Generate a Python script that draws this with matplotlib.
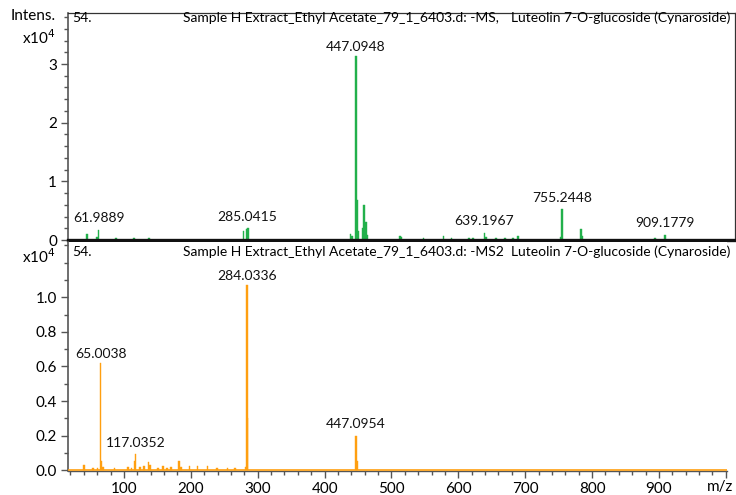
import matplotlib
matplotlib.use("Agg")
import matplotlib.pyplot as plt
from matplotlib.ticker import MultipleLocator, FixedLocator, FuncFormatter

plt.rcParams['font.family'] = ['Lato', 'DejaVu Sans']

# ---- data (intensity in units of 1e4) ----
ms1_mz = [44.7, 59.7, 61.9889, 88, 115, 137, 279, 283.5, 285.0415,
          439, 441, 447.0948, 448, 449.5, 456.6, 459, 462, 463.5,
          513, 515, 548, 578, 590, 616, 622, 639.1967, 641, 656, 670, 682, 689,
          753.5, 755.2448, 783, 785, 894, 909.1779]
ms1_int = [0.10, 0.05, 0.17, 0.03, 0.03, 0.03, 0.15, 0.18, 0.20,
           0.10, 0.06, 3.13, 0.68, 0.15, 0.20, 0.60, 0.30, 0.08,
           0.07, 0.05, 0.04, 0.07, 0.03, 0.04, 0.04, 0.12, 0.05, 0.03, 0.04, 0.03, 0.06,
           0.05, 0.52, 0.18, 0.06, 0.04, 0.09]

ms2_mz = [40.6, 53.7, 60.6, 65.0038, 66.5, 68.7, 86, 106, 111, 116.0, 117.0352,
          124, 130, 136.4, 139, 151, 158, 164, 170, 182, 185, 198, 210, 225,
          239, 255, 266, 282, 284.0336, 285.0, 447.0954, 448.2]
ms2_int = [0.03, 0.01, 0.01, 0.62, 0.05, 0.02, 0.01, 0.02, 0.015, 0.05, 0.093,
           0.02, 0.025, 0.047, 0.03, 0.015, 0.025, 0.015, 0.02, 0.055, 0.02,
           0.025, 0.025, 0.022, 0.012, 0.01, 0.01, 0.02, 1.07, 0.30, 0.20, 0.05]

ms1_labels = [61.9889, 285.0415, 447.0948, 639.1967, 755.2448, 909.1779]
ms1_label_h = [0.17, 0.20, 3.13, 0.12, 0.52, 0.09]
ms2_labels = [65.0038, 117.0352, 284.0336, 447.0954]
ms2_label_h = [0.62, 0.093, 1.07, 0.20]

header = "Sample H Extract_Ethyl Acetate_79_1_6403.d: "
scan1 = "-MS,"
scan2 = "-MS2"
compound = "Luteolin 7-O-glucoside (Cynaroside)"
compound_no = "54."

green = "#22b04b"
orange = "#ff9f10"
gray = "#555555"

W, H = 736, 495
fig = plt.figure(figsize=(W / 100, H / 100), dpi=100)

def fx(px):
    return px / W

def fy(py):
    return 1 - py / H

# axes geometry (pixels)
top_l, top_r, top_t, top_b = 68, 735, 13, 240
bot_l, bot_r, bot_t, bot_b = 68, 727, 242, 471
px_per_unit = 0.66875
x0 = 16.3

ax1 = fig.add_axes([fx(top_l), fy(top_b), (top_r - top_l) / W, (top_b - top_t) / H])
ax2 = fig.add_axes([fx(bot_l), fy(bot_b), (bot_r - bot_l) / W, (bot_b - bot_t) / H])

ax1.set_xlim(x0, x0 + (top_r - top_l) / px_per_unit)
ax2.set_xlim(x0, x0 + (bot_r - bot_l) / px_per_unit)
ax1.set_ylim(0, 3.87)
ax2.set_ylim(-0.005, 1.32)

ax1.bar(ms1_mz, ms1_int, width=2.4, color=green, edgecolor=green, linewidth=0.3)
ax2.bar(ms2_mz, ms2_int, width=2.4, color=orange, edgecolor=orange, linewidth=0.3)
ax2.axhline(0, color=orange, lw=1.2, zorder=3)

fs_lab = 10
for m, h in zip(ms1_labels, ms1_label_h):
    ax1.annotate(f"{m:.4f}", (m, h), xytext=(0, 2.5 if h > 1 else 4),
                 textcoords="offset points", ha="center", va="bottom", fontsize=fs_lab, color="#111111")
for m, h in zip(ms2_labels, ms2_label_h):
    ax2.annotate(f"{m:.4f}", (m, h), xytext=(0, 2.5 if h > 0.5 else 4),
                 textcoords="offset points", ha="center", va="bottom", fontsize=fs_lab, color="#111111")

# spines
for s in ["top", "right"]:
    ax1.spines[s].set_color("#333333")
    ax1.spines[s].set_linewidth(0.9)
ax1.spines["left"].set_color(gray)
ax1.spines["left"].set_linewidth(1.2)
ax1.spines["bottom"].set_color("#111111")
ax1.spines["bottom"].set_linewidth(2.4)
ax1.spines["bottom"].set_zorder(4)

ax2.spines["top"].set_visible(False)
ax2.spines["right"].set_visible(False)
ax2.spines["left"].set_color(gray)
ax2.spines["left"].set_linewidth(1.2)
ax2.spines["bottom"].set_color(gray)
ax2.spines["bottom"].set_linewidth(1.0)

# ticks
ax1.set_xticks([])
ax1.yaxis.set_major_locator(FixedLocator([0, 1, 2, 3]))
ax1.yaxis.set_minor_locator(MultipleLocator(0.2))
ax1.tick_params(axis="y", which="major", length=5, width=1, color=gray, labelsize=11, pad=3)
ax1.tick_params(axis="y", which="minor", length=3, width=1, color=gray)

ax2.yaxis.set_major_locator(FixedLocator([0.0, 0.2, 0.4, 0.6, 0.8, 1.0]))
ax2.yaxis.set_minor_locator(MultipleLocator(0.1))
ax2.yaxis.set_major_formatter(FuncFormatter(lambda v, p: f"{v:.1f}"))
ax2.tick_params(axis="y", which="major", length=5, width=1, color=gray, labelsize=11, pad=3)
ax2.tick_params(axis="y", which="minor", length=3, width=1, color=gray)

ax2.xaxis.set_major_locator(FixedLocator([100, 200, 300, 400, 500, 600, 700, 800, 900, 1000]))
ax2.xaxis.set_minor_locator(MultipleLocator(20))
ax2.xaxis.set_major_formatter(FuncFormatter(lambda v, p: "" if v >= 1000 else f"{v:.0f}"))
ax2.tick_params(axis="x", which="major", length=5, width=1, color=gray, labelsize=11, pad=3)
ax2.tick_params(axis="x", which="minor", length=3, width=1, color=gray)

# headers
fs_head = 10
fig.text(fx(72), fy(18), compound_no, fontsize=fs_head, ha="left", va="center")
fig.text(fx(183), fy(18), header + scan1, fontsize=fs_head, ha="left", va="center")
fig.text(fx(730), fy(18), compound, fontsize=fs_head, ha="right", va="center")
fig.text(fx(72), fy(252), compound_no, fontsize=fs_head, ha="left", va="center")
fig.text(fx(183), fy(252), header + scan2, fontsize=fs_head, ha="left", va="center")
fig.text(fx(730), fy(252), compound, fontsize=fs_head, ha="right", va="center")

fig.text(fx(56), fy(16), "Intens.", fontsize=11, ha="right", va="center")
fig.text(fx(56), fy(38), r"x10$^{4}$", fontsize=11, ha="right", va="center")
fig.text(fx(56), fy(257), r"x10$^{4}$", fontsize=11, ha="right", va="center")
fig.text(fx(720), fy(487), "m/z", fontsize=11, ha="center", va="center")

fig.savefig("out.png", dpi=100)
